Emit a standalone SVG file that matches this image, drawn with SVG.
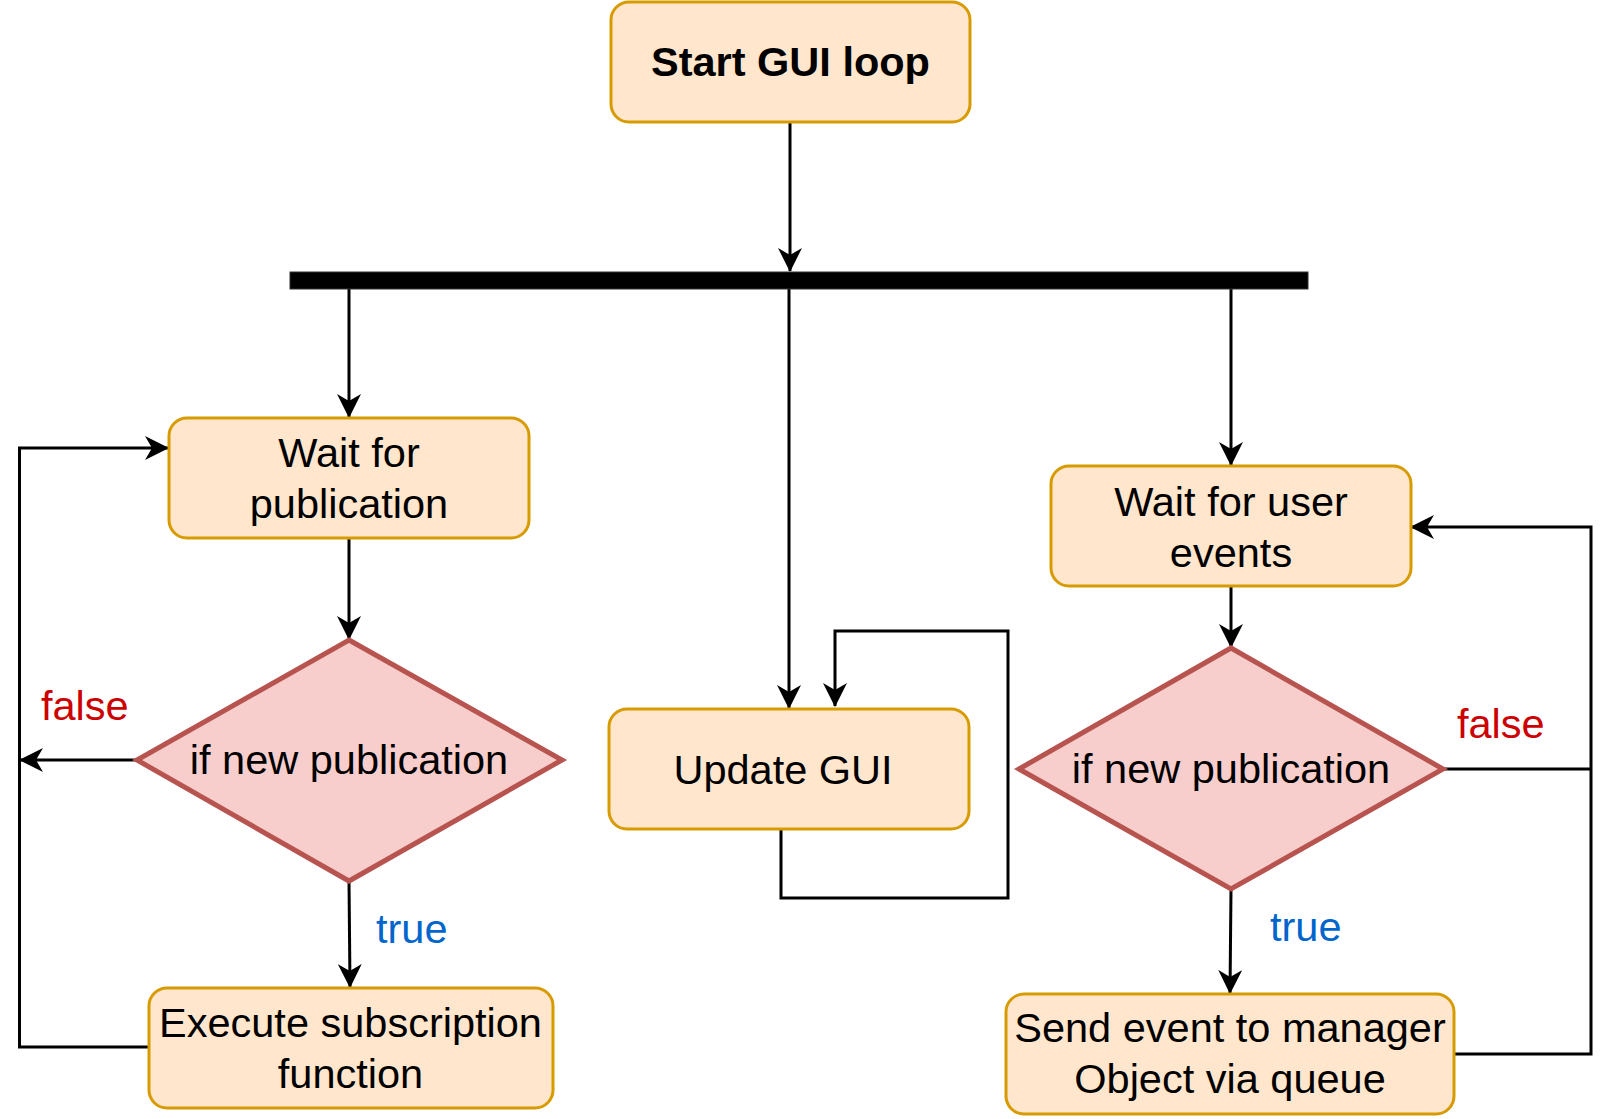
<svg xmlns="http://www.w3.org/2000/svg" width="1617" height="1119" viewBox="0 0 1617 1119">
<style>
.box{fill:#ffe6cc;stroke:#d79b00;stroke-width:3}
.dia{fill:#f8cecc;stroke:#b85450;stroke-width:5}
.t{font-family:"Liberation Sans",Arial,sans-serif;font-size:41.5px;fill:#000;text-anchor:middle}
.b{font-weight:bold}
.c{fill:none;stroke:#000;stroke-width:3}
.f{fill:#cc0000;text-anchor:start}
.tr{fill:#0066cc;text-anchor:start}
</style>
<defs>
<marker id="arr" viewBox="0 0 24 24" refX="23" refY="12" markerWidth="24" markerHeight="24" orient="auto" markerUnits="userSpaceOnUse">
<path d="M0,0 L24,12 L0,24 L7,12 Z" fill="#000"/>
</marker>
</defs>
<rect width="1617" height="1119" fill="#fff"/>
<g id="connectors">
<path class="c" d="M790,122 L790,271" marker-end="url(#arr)"/>
<path class="c" d="M349,280 L349,417" marker-end="url(#arr)"/>
<path class="c" d="M789,280 L789,708" marker-end="url(#arr)"/>
<path class="c" d="M1231,280 L1231,465" marker-end="url(#arr)"/>
<path class="c" d="M349,538 L349,639" marker-end="url(#arr)"/>
<path class="c" d="M137,760 L20,760" marker-end="url(#arr)"/>
<path class="c" d="M349,881 L350,987" marker-end="url(#arr)"/>
<path class="c" d="M148,1047 L19.5,1047 L19.5,448 L168,448" marker-end="url(#arr)"/>
<path class="c" d="M781,829 L781,898 L1008,898 L1008,631 L835,631 L835,706" marker-end="url(#arr)"/>
<path class="c" d="M1231,586 L1231,647" marker-end="url(#arr)"/>
<path class="c" d="M1231,889 L1230,993" marker-end="url(#arr)"/>
<path class="c" d="M1443,769 L1591,769"/>
<path class="c" d="M1454,1054 L1591,1054 L1591,527 L1411,527" marker-end="url(#arr)"/>
</g>
<g id="bar">
<rect x="290" y="272" width="1018" height="17" fill="#000" stroke="#333" stroke-width="1"/>
</g>
<g id="start">
<rect class="box" x="611" y="2" width="359" height="120" rx="18"/>
<text class="t b" x="790.5" y="76">Start GUI loop</text>
</g>
<g id="wait-pub">
<rect class="box" x="169" y="418" width="360" height="120" rx="18"/>
<text class="t" x="349" y="467">Wait for</text>
<text class="t" x="349" y="518">publication</text>
</g>
<g id="dec-left">
<polygon class="dia" points="349,640 562,760 349,881 137,760"/>
<text class="t" x="349" y="774">if new publication</text>
</g>
<g id="exec">
<rect class="box" x="149" y="988" width="404" height="120" rx="18"/>
<text class="t" x="350.5" y="1037">Execute subscription</text>
<text class="t" x="350.5" y="1088">function</text>
</g>
<g id="update">
<rect class="box" x="609" y="709" width="360" height="120" rx="18"/>
<text class="t" x="783" y="784">Update GUI</text>
</g>
<g id="wait-user">
<rect class="box" x="1051" y="466" width="360" height="120" rx="18"/>
<text class="t" x="1231" y="516">Wait for user</text>
<text class="t" x="1231" y="567">events</text>
</g>
<g id="dec-right">
<polygon class="dia" points="1231,648 1443,769 1231,889 1019,769"/>
<text class="t" x="1231" y="783">if new publication</text>
</g>
<g id="send">
<rect class="box" x="1006" y="994" width="448" height="120" rx="18"/>
<text class="t" x="1230" y="1042">Send event to manager</text>
<text class="t" x="1230" y="1093">Object via queue</text>
</g>
<g id="labels">
<text class="t f" x="41" y="720">false</text>
<text class="t tr" x="376" y="943">true</text>
<text class="t f" x="1457" y="738">false</text>
<text class="t tr" x="1270" y="941">true</text>
</g>
</svg>
